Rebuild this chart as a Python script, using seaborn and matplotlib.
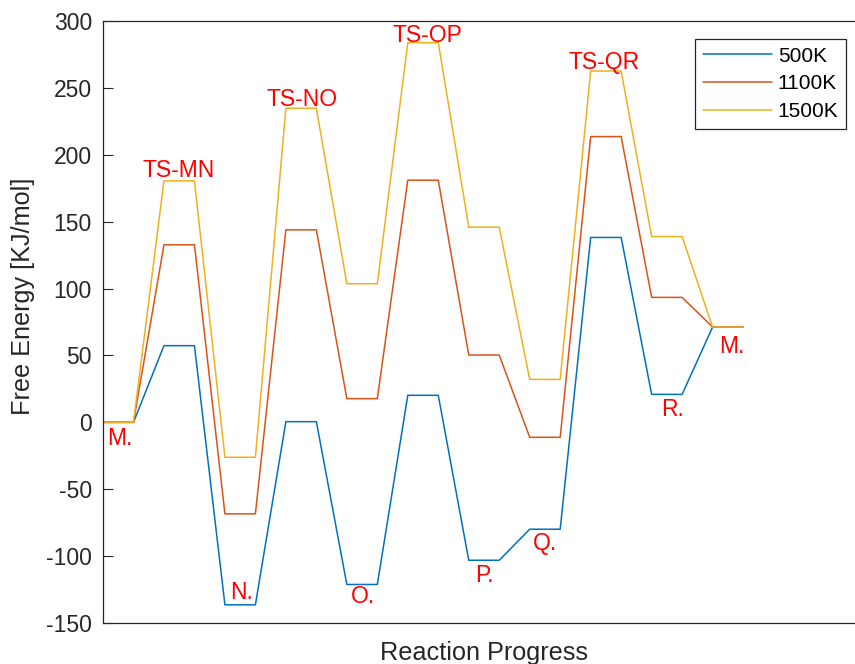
import matplotlib
matplotlib.use("Agg")
import matplotlib.pyplot as plt
import numpy as np
import pandas as pd
import seaborn as sns

# Free energy of each intermediate / transition state along the cycle [kJ/mol]
states = ["M", "TS-MN", "N", "TS-NO", "O", "TS-OP", "P", "Q", "TS-QR", "R", "M"]
g_500 = [0, 57.3, -136.4, 0.5, -121.2, 20.2, -103.1, -79.9, 138.2, 20.9, 71.2]
g_1100 = [0, 132.7, -68.4, 143.9, 17.7, 181.0, 50.3, -11.2, 213.6, 93.4, 71.2]
g_1500 = [0, 180.5, -26.1, 234.8, 103.6, 283.8, 145.9, 32.1, 262.6, 138.9, 71.2]
temperatures = ["500K", "1100K", "1500K"]

# State labels (text, x centre, baseline y)
label_text = ["M.", "TS-MN", "N.", "TS-NO", "O.", "TS-OP", "P.", "Q.", "TS-QR", "R.", "M."]
label_x = [0.54, 2.49, 4.53, 6.53, 8.53, 10.65, 12.52, 14.5, 16.44, 18.68, 20.62]
label_y = [-16.6, 183.4, -131.7, 236.5, -135.4, 284.3, -119.0, -95.1, 263.8, 4.5, 51.8]

y_ticks = [-150, -100, -50, 0, 50, 100, 150, 200, 250, 300]

# Each state is drawn as a flat level one unit wide, joined by one-unit ramps
rows = []
for temp, series in zip(temperatures, [g_500, g_1100, g_1500]):
    for i, g in enumerate(series):
        rows.append({"x": 2 * i, "G": g, "T": temp})
        rows.append({"x": 2 * i + 1, "G": g, "T": temp})
df = pd.DataFrame(rows)

sns.set_theme(style="white")
plt.rcParams["font.family"] = ["Liberation Sans", "DejaVu Sans"]
axis_gray = "#262626"

fig = plt.figure(figsize=(8.55, 6.64), dpi=100)
ax = fig.add_axes([103 / 855, 41 / 664, 762 / 855, 602 / 664])

palette = {"500K": "#0072BD", "1100K": "#D95319", "1500K": "#EDB120"}
sns.lineplot(data=df, x="x", y="G", hue="T", hue_order=temperatures,
             palette=palette, sort=False, estimator=None, linewidth=1.1, ax=ax)

for txt, lx, ly in zip(label_text, label_x, label_y):
    ax.text(lx, ly, txt, color="#FF0000", fontsize=16.5,
            ha="center", va="baseline")

ax.set_xlim(0, 25)
ax.set_ylim(-150, 300)
ax.set_xticks([])
ax.set_yticks(y_ticks)
ax.set_yticklabels([str(t) for t in y_ticks])
ax.tick_params(axis="y", direction="in", length=7, width=0.8, color=axis_gray,
               labelcolor=axis_gray, labelsize=16.5, pad=8, left=True)

for side in ["left", "bottom", "top", "right"]:
    ax.spines[side].set_color(axis_gray)
    ax.spines[side].set_linewidth(0.9)

ax.set_xlabel("Reaction Progress", fontsize=18.2, color=axis_gray)
ax.set_ylabel("Free Energy [KJ/mol]", fontsize=18.2, color=axis_gray)
ax.xaxis.label.set_va("baseline")
ax.xaxis.set_label_coords(0.5, -0.0615)
ax.yaxis.label.set_va("center")
ax.yaxis.set_label_coords(-0.105, 0.543)

leg = ax.legend(loc="upper right", bbox_to_anchor=(846 / 855, 1 - 39 / 664),
                bbox_transform=fig.transFigure, borderaxespad=0,
                fontsize=15, frameon=True, fancybox=False, framealpha=1,
                edgecolor=axis_gray, handlelength=3.3, handletextpad=0.3,
                borderpad=0.36, labelspacing=0.43, title=None)
leg.get_frame().set_linewidth(0.9)
for t in leg.get_texts():
    t.set_color("black")

fig.savefig("out.png", dpi=100)
